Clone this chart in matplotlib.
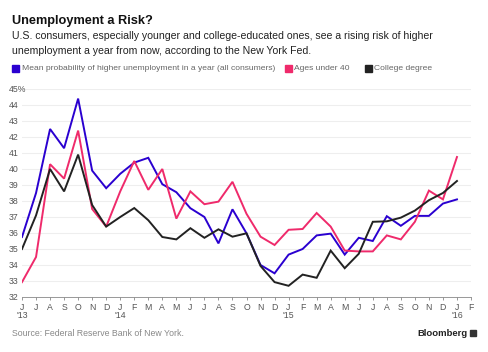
import matplotlib
matplotlib.use("Agg")
from matplotlib import pyplot as plt
from matplotlib.patches import Rectangle
from matplotlib.transforms import blended_transform_factory
import numpy as np

# monthly data, Jun 2013 .. Jan 2016
months = ['J', 'J', 'A', 'S', 'O', 'N', 'D',
          'J', 'F', 'M', 'A', 'M', 'J', 'J', 'A', 'S', 'O', 'N', 'D',
          'J', 'F', 'M', 'A', 'M', 'J', 'J', 'A', 'S', 'O', 'N', 'D',
          'J', 'F']
year_marks = {0: "'13", 7: "'14", 19: "'15", 31: "'16"}

all_consumers = [35.75, 38.5, 42.5, 41.3, 44.4, 39.9, 38.8,
                 39.7, 40.4, 40.7, 39.05, 38.55, 37.55, 37.0, 35.35, 37.48, 35.98, 34.0, 33.48,
                 34.65, 35.0, 35.85, 35.96, 34.65, 35.7, 35.5, 37.05, 36.45, 37.07, 37.07, 37.84,
                 38.1]
under_40 = [32.93, 34.5, 40.3, 39.4, 42.4, 37.5, 36.4,
            38.6, 40.5, 38.7, 40.0, 36.9, 38.6, 37.8, 37.96, 39.2, 37.2, 35.77, 35.25,
            36.2, 36.25, 37.25, 36.4, 34.9, 34.85, 34.85, 35.85, 35.6, 36.7, 38.65, 38.1,
            40.75]
college = [35.0, 37.1, 40.0, 38.6, 40.9, 37.75, 36.4,
           37.0, 37.56, 36.8, 35.75, 35.6, 36.3, 35.7, 36.23, 35.77, 35.98, 33.94, 32.93,
           32.7, 33.4, 33.2, 34.9, 33.8, 34.7, 36.7, 36.73, 36.96, 37.4, 38.05, 38.5,
           39.25]

series_names = ['Mean probability of higher unemployment in a year (all consumers)',
                'Ages under 40', 'College degree']
colors = ['#2a00d0', '#ef2a6b', '#222222']
yticks = list(range(32, 46))

plt.rcParams['font.family'] = ['Liberation Sans', 'DejaVu Sans']

fig = plt.figure(figsize=(4.88, 3.52), dpi=100)
ax = fig.add_axes([22 / 488, 1 - 297 / 352, 449 / 488, 208 / 352])

x = np.arange(len(all_consumers))
for vals, c in zip([all_consumers, under_40, college], colors):
    ax.plot(x, vals, color=c, lw=1.4, solid_joinstyle='miter', zorder=3)

ax.set_xlim(0, len(months) - 1)
ax.set_ylim(32, 45)
ax.set_yticks(yticks)
ax.set_yticklabels([f'{v}%' if v == 45 else str(v) for v in yticks])
ax.yaxis.grid(True, color='#eeeeee', lw=0.8)
ax.tick_params(axis='y', length=0, pad=9.4, labelsize=6.3, labelcolor='#555555')
for lab in ax.get_yticklabels():
    lab.set_horizontalalignment('left')

ax.set_xticks(range(len(months)))
ax.set_xticklabels(months)
ax.tick_params(axis='x', length=2.5, width=0.6, color='#888888', pad=1.5,
               labelsize=6.3, labelcolor='#555555')
yr_tr = blended_transform_factory(ax.transData, fig.transFigure)
for k, v in year_marks.items():
    ax.text(k, 1 - 315 / 352, v, transform=yr_tr,
            ha='center', va='center', fontsize=6.3, color='#555555')

for s in ['top', 'right', 'left']:
    ax.spines[s].set_visible(False)
ax.spines['bottom'].set_color('#888888')
ax.spines['bottom'].set_linewidth(0.6)

fig.text(12 / 488, 1 - 21 / 352, 'Unemployment a Risk?', fontsize=9.2, fontweight='bold',
         va='center', color='#111111')
fig.text(12 / 488, 1 - 36 / 352,
         'U.S. consumers, especially younger and college-educated ones, see a rising risk of higher',
         fontsize=7.6, va='center', color='#222222')
fig.text(12 / 488, 1 - 51 / 352, 'unemployment a year from now, according to the New York Fed.',
         fontsize=7.6, va='center', color='#222222')

leg_x = [12, 285, 365]
for lx, name, c in zip(leg_x, series_names, colors):
    fig.patches.append(Rectangle((lx / 488, 1 - 72 / 352), 7 / 488, 7 / 352,
                                 transform=fig.transFigure, color=c))
    fig.text((lx + 9.5) / 488, 1 - 68.5 / 352, name, fontsize=6.1, va='center', color='#666666')

fig.text(12 / 488, 1 - 333 / 352, 'Source: Federal Reserve Bank of New York.',
         fontsize=6.3, va='center', color='#888888')
fig.text(467 / 488, 1 - 333 / 352, 'Bloomberg', fontsize=6.8, fontweight='bold',
         va='center', ha='right', color='#222222')
fig.patches.append(Rectangle((470 / 488, 1 - 336 / 352), 6 / 488, 6 / 352,
                             transform=fig.transFigure, color='#333333'))

fig.savefig('out.png', dpi=100)
